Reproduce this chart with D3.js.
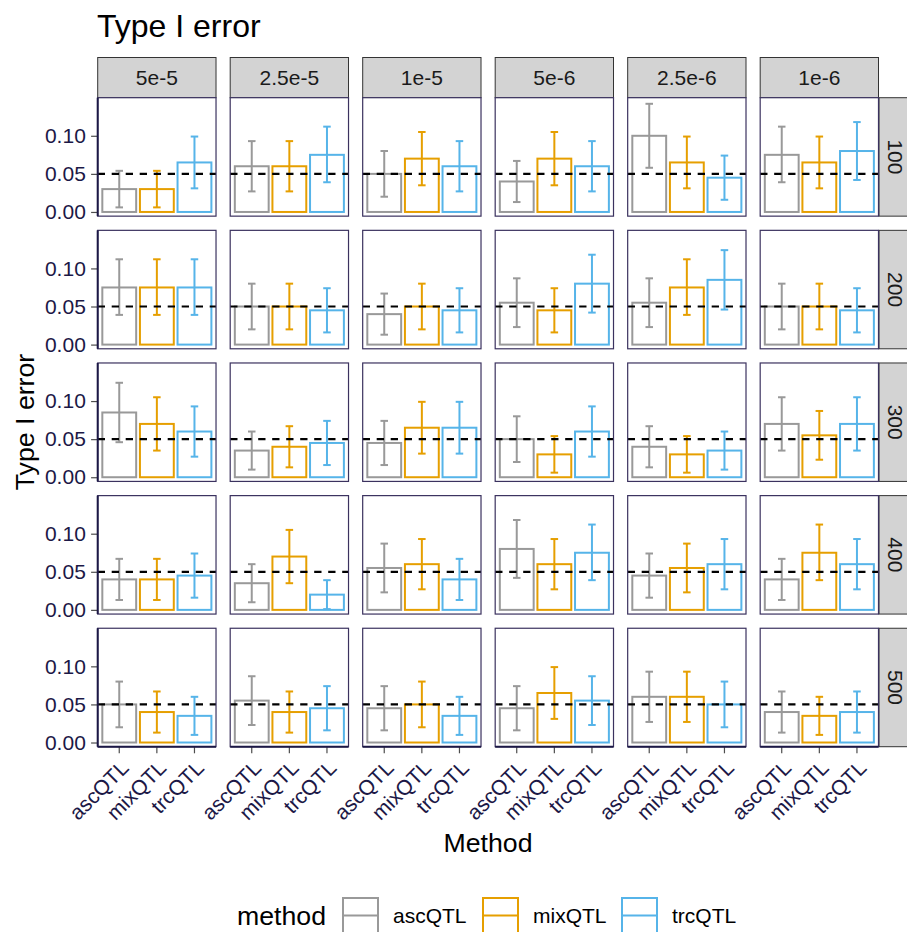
<!DOCTYPE html>
<html>
<head>
<meta charset="utf-8">
<script src="https://cdn.jsdelivr.net/npm/d3@7"></script>
<style>
  body { margin: 0; background: #fff; }
  svg { display: block; font-family: "Liberation Sans", Arial, Helvetica, sans-serif; }
</style>
</head>
<body>
<svg id="chart" width="907" height="932"></svg>
<script>
// Facet columns: p-value thresholds; facet rows: sample sizes
const thresholds = ["5e-5", "2.5e-5", "1e-5", "5e-6", "2.5e-6", "1e-6"];
const sampleSizes = ["100", "200", "300", "400", "500"];
const methods = ["ascQTL", "mixQTL", "trcQTL"];
const methodColors = ["#999999", "#E69F00", "#56B4E9"];
const yTicks = [0, 0.05, 0.10];
const nominalLevel = 0.05;

// Type I error rate, rows = sample size, columns = threshold
const ascValue = [
  [0.030, 0.060, 0.050, 0.040, 0.100, 0.075],
  [0.075, 0.050, 0.040, 0.055, 0.055, 0.050],
  [0.085, 0.035, 0.045, 0.050, 0.040, 0.070],
  [0.040, 0.035, 0.055, 0.080, 0.045, 0.040],
  [0.050, 0.055, 0.045, 0.045, 0.060, 0.040]
];
const ascLower = [
  [0.006, 0.027, 0.020, 0.013, 0.058, 0.039],
  [0.039, 0.020, 0.013, 0.023, 0.023, 0.020],
  [0.046, 0.010, 0.016, 0.020, 0.013, 0.035],
  [0.013, 0.010, 0.023, 0.042, 0.016, 0.013],
  [0.020, 0.023, 0.016, 0.016, 0.027, 0.013]
];
const ascUpper = [
  [0.054, 0.093, 0.080, 0.067, 0.142, 0.112],
  [0.112, 0.080, 0.067, 0.087, 0.087, 0.080],
  [0.124, 0.060, 0.074, 0.080, 0.067, 0.105],
  [0.067, 0.060, 0.087, 0.118, 0.074, 0.067],
  [0.080, 0.087, 0.074, 0.074, 0.093, 0.067]
];

const mixValue = [
  [0.030, 0.060, 0.070, 0.070, 0.065, 0.065],
  [0.075, 0.050, 0.050, 0.045, 0.075, 0.050],
  [0.070, 0.040, 0.065, 0.030, 0.030, 0.055],
  [0.040, 0.070, 0.060, 0.060, 0.055, 0.075],
  [0.040, 0.040, 0.050, 0.065, 0.060, 0.035]
];
const mixLower = [
  [0.006, 0.027, 0.035, 0.035, 0.031, 0.031],
  [0.039, 0.020, 0.020, 0.016, 0.039, 0.020],
  [0.035, 0.013, 0.031, 0.006, 0.006, 0.023],
  [0.013, 0.035, 0.027, 0.027, 0.023, 0.039],
  [0.013, 0.013, 0.020, 0.031, 0.027, 0.010]
];
const mixUpper = [
  [0.054, 0.093, 0.105, 0.105, 0.099, 0.099],
  [0.112, 0.080, 0.080, 0.074, 0.112, 0.080],
  [0.105, 0.067, 0.099, 0.054, 0.054, 0.087],
  [0.067, 0.105, 0.093, 0.093, 0.087, 0.112],
  [0.067, 0.067, 0.080, 0.099, 0.093, 0.060]
];

const trcValue = [
  [0.065, 0.075, 0.060, 0.060, 0.045, 0.080],
  [0.075, 0.045, 0.045, 0.080, 0.085, 0.045],
  [0.060, 0.045, 0.065, 0.060, 0.035, 0.070],
  [0.045, 0.020, 0.040, 0.075, 0.060, 0.060],
  [0.035, 0.045, 0.035, 0.055, 0.050, 0.040]
];
const trcLower = [
  [0.031, 0.039, 0.027, 0.027, 0.016, 0.042],
  [0.039, 0.016, 0.016, 0.042, 0.046, 0.016],
  [0.027, 0.016, 0.031, 0.027, 0.010, 0.035],
  [0.016, 0.001, 0.013, 0.039, 0.027, 0.027],
  [0.010, 0.016, 0.010, 0.023, 0.020, 0.013]
];
const trcUpper = [
  [0.099, 0.112, 0.093, 0.093, 0.074, 0.118],
  [0.112, 0.074, 0.074, 0.118, 0.124, 0.074],
  [0.093, 0.074, 0.099, 0.093, 0.060, 0.105],
  [0.074, 0.039, 0.067, 0.112, 0.093, 0.093],
  [0.060, 0.074, 0.060, 0.087, 0.080, 0.067]
];

const series = {
  ascQTL: { value: ascValue, lower: ascLower, upper: ascUpper },
  mixQTL: { value: mixValue, lower: mixLower, upper: mixUpper },
  trcQTL: { value: trcValue, lower: trcLower, upper: trcUpper }
};

const svg = d3.select("#chart");
const tickColor = "#1c1846";
const borderColor = "#3b325f";
const stripFill = "#d3d3d3";
const stripStroke = "#333333";

svg.append("rect").attr("width", 907).attr("height", 932).attr("fill", "#fff");

// Facet grid layout
const colBand = d3.scaleBand().domain(thresholds).range([97.7, 878.5]).paddingInner(0.107);
const rowBand = d3.scaleBand().domain(sampleSizes).range([97.7, 746.7]).paddingInner(0.107);
const pw = colBand.bandwidth();
const ph = rowBand.bandwidth();

// Scales inside one panel
const x = d3.scaleBand().domain(methods).range([0, pw]).paddingInner(0.1).paddingOuter(0.123);
const y = d3.scaleLinear().domain([-0.0055, 0.150]).range([ph, 0]);
const color = d3.scaleOrdinal().domain(methods).range(methodColors);
const capHalf = x.step() * 0.1;

// Title
svg.append("text").attr("x", 97).attr("y", 37)
  .attr("font-size", 32).attr("fill", "#000").text("Type I error");

// Column strips
thresholds.forEach(t => {
  const s = svg.append("g").attr("transform", `translate(${colBand(t)},57.5)`);
  s.append("rect").attr("width", pw).attr("height", 40.2)
    .attr("fill", stripFill).attr("stroke", stripStroke).attr("stroke-width", 1);
  s.append("text").attr("x", pw / 2).attr("y", 20.1).attr("dy", "0.35em")
    .attr("text-anchor", "middle").attr("font-size", 21).attr("fill", "#1a1a1a").text(t);
});

// Row strips (run off the right edge of the canvas)
sampleSizes.forEach(n => {
  const s = svg.append("g").attr("transform", `translate(879,${rowBand(n)})`);
  s.append("rect").attr("width", 40).attr("height", ph)
    .attr("fill", stripFill).attr("stroke", stripStroke).attr("stroke-width", 1);
  s.append("text").attr("transform", `translate(16.5,${ph / 2}) rotate(90)`)
    .attr("dy", "0.35em").attr("text-anchor", "middle")
    .attr("font-size", 21).attr("fill", "#1a1a1a").text(n);
});

// Panels
sampleSizes.forEach((n, ri) => {
  thresholds.forEach((t, ci) => {
    const g = svg.append("g").attr("transform", `translate(${colBand(t)},${rowBand(n)})`);
    const cells = methods.map(m => ({
      method: m,
      value: series[m].value[ri][ci],
      lower: series[m].lower[ri][ci],
      upper: series[m].upper[ri][ci]
    }));

    g.append("rect").attr("width", pw).attr("height", ph).attr("fill", "#fff");

    g.selectAll("rect.bar").data(cells).join("rect").attr("class", "bar")
      .attr("x", d => x(d.method))
      .attr("width", x.bandwidth())
      .attr("y", d => y(d.value))
      .attr("height", d => y(0) - y(d.value))
      .attr("fill", "none")
      .attr("stroke", d => color(d.method))
      .attr("stroke-width", 2);

    const eb = g.selectAll("g.eb").data(cells).join("g").attr("class", "eb")
      .attr("stroke", d => color(d.method)).attr("stroke-width", 2)
      .attr("transform", d => `translate(${x(d.method) + x.bandwidth() / 2},0)`);
    eb.append("line").attr("y1", d => y(d.lower)).attr("y2", d => y(d.upper));
    eb.append("line").attr("x1", -capHalf).attr("x2", capHalf)
      .attr("y1", d => y(d.lower)).attr("y2", d => y(d.lower));
    eb.append("line").attr("x1", -capHalf).attr("x2", capHalf)
      .attr("y1", d => y(d.upper)).attr("y2", d => y(d.upper));

    g.append("line").attr("x1", 0).attr("x2", pw)
      .attr("y1", y(nominalLevel)).attr("y2", y(nominalLevel))
      .attr("stroke", "#000").attr("stroke-width", 2.2)
      .attr("stroke-dasharray", "7.3,6.7");

    g.append("rect").attr("width", pw).attr("height", ph)
      .attr("fill", "none").attr("stroke", borderColor).attr("stroke-width", 1.2);

    if (ci === 0) {
      const ax = g.append("g").call(
        d3.axisLeft(y).tickValues(yTicks).tickFormat(d3.format(".2f"))
          .tickSize(6.6).tickPadding(5.3));
      ax.select(".domain").remove();
      ax.selectAll(".tick line").attr("stroke", "#4d4d4d").attr("stroke-width", 1.2);
      ax.selectAll(".tick text").attr("font-size", 21).attr("fill", tickColor)
        .attr("font-family", "Liberation Sans, Arial, sans-serif");
      g.append("line").attr("x1", 0).attr("x2", 0).attr("y1", 0).attr("y2", ph)
        .attr("stroke", tickColor).attr("stroke-width", 2);
    }
    if (ri === sampleSizes.length - 1) {
      const ax = g.append("g").attr("transform", `translate(0,${ph})`)
        .call(d3.axisBottom(x).tickSize(6.6));
      ax.select(".domain").remove();
      ax.selectAll(".tick line").attr("stroke", "#4d4d4d").attr("stroke-width", 1.2);
      ax.selectAll(".tick text")
        .attr("x", 0).attr("y", 0).attr("dy", "0.72em")
        .attr("transform", "translate(0,11.9) rotate(-45)")
        .attr("text-anchor", "end")
        .attr("font-size", 21).attr("fill", tickColor)
        .attr("font-family", "Liberation Sans, Arial, sans-serif");
      g.append("line").attr("x1", 0).attr("x2", pw).attr("y1", ph).attr("y2", ph)
        .attr("stroke", tickColor).attr("stroke-width", 2);
    }
  });
});

// Axis titles
svg.append("text").attr("transform", "translate(34,422) rotate(-90)")
  .attr("text-anchor", "middle").attr("font-size", 26.7).attr("fill", "#000").text("Type I error");
svg.append("text").attr("x", 488).attr("y", 852)
  .attr("text-anchor", "middle").attr("font-size", 26.7).attr("fill", "#000").text("Method");

// Legend
const legend = svg.append("g");
legend.append("text").attr("x", 237).attr("y", 925)
  .attr("font-size", 26.7).attr("fill", "#000").text("method");
const keyX = [343, 483, 622];
methods.forEach((m, i) => {
  const k = legend.append("g").attr("transform", `translate(${keyX[i]},898)`);
  k.append("rect").attr("width", 35).attr("height", 35).attr("fill", "#fff")
    .attr("stroke", color(m)).attr("stroke-width", 2);
  k.append("line").attr("x1", 0).attr("x2", 35).attr("y1", 17.5).attr("y2", 17.5)
    .attr("stroke", color(m)).attr("stroke-width", 2.2);
  k.append("text").attr("x", 50).attr("y", 17.5).attr("dy", "0.35em")
    .attr("font-size", 21).attr("fill", "#000").text(m);
});
</script>
</body>
</html>
